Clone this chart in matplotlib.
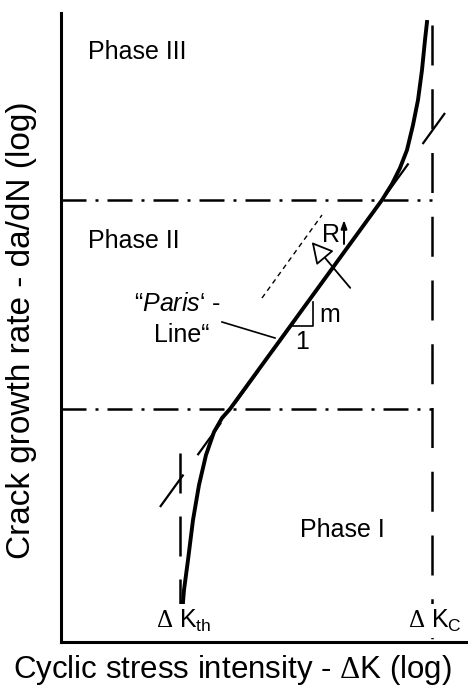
import numpy as np
import matplotlib
matplotlib.use("Agg")
import matplotlib.pyplot as plt
from matplotlib.patches import FancyArrowPatch

plt.rcParams['font.family'] = ['Liberation Sans', 'DejaVu Sans']
plt.rcParams['mathtext.fontset'] = 'custom'
plt.rcParams['mathtext.rm'] = 'Liberation Sans'
plt.rcParams['mathtext.it'] = 'Liberation Sans:italic'
plt.rcParams['mathtext.sf'] = 'Liberation Serif'
plt.rcParams['lines.scale_dashes'] = False

# drawing units: 1 unit = 1 px, origin at the axes corner
XMAX, YMAX = 405, 629

# da/dN curve (log dK, log da/dN)
curve_x = [121, 122, 123, 127, 132, 138, 145, 153, 161, 169, 321, 331, 339, 346, 352, 357, 361, 364, 366]
curve_y = [8, 40, 52, 82, 122, 157, 187, 210, 224, 233, 442, 458, 474, 492, 517, 542, 572, 602, 620]

# Paris line (straight part extended)
paris_x = [99, 384]
paris_y = [135, 529]

# phase boundaries
phase_y = [233, 442]
kth_x, kc_x = 119, 371
kth_span = [23, 189]
kc_span = [0, 617]

PX = 72 / 100  # points per pixel at dpi 100

fig = plt.figure(figsize=(4.68, 6.91), dpi=100)
ax = fig.add_axes([61 / 468, 49 / 691, 405 / 468, 629 / 691])
ax.set_xlim(0, XMAX)
ax.set_ylim(0, YMAX)
ax.set_xticks([])
ax.set_yticks([])
for s in ['top', 'right']:
    ax.spines[s].set_visible(False)
for s in ['left', 'bottom']:
    ax.spines[s].set_linewidth(2.2)
    ax.spines[s].set_zorder(5)

# dash-dot phase limits
for y in phase_y:
    ax.plot([0, kc_x], [y, y], color='black', lw=1.8,
            dashes=(25 * PX, 9 * PX, 3 * PX, 9 * PX), solid_capstyle='butt')

# threshold and critical stress intensity
ax.plot([kth_x, kth_x], kth_span[::-1], color='black', lw=1.8, dashes=(40 * PX, 23 * PX))
ax.plot([kc_x, kc_x], kc_span[::-1], color='black', lw=1.8, dashes=(40 * PX, 23.75 * PX))

# Paris line
ax.plot(paris_x, paris_y, color='black', lw=1.6, dashes=(40 * PX, 24 * PX))

# crack growth curve
ax.plot(curve_x, curve_y, color='black', lw=2.8, solid_joinstyle='round')

# shifted Paris line for higher R
ax.plot([201, 261], [344, 427], color='black', lw=1.0, dashes=(5 * PX, 4 * PX))
ax.add_patch(FancyArrowPatch((291, 352), (249, 402),
                             arrowstyle='-|>,head_length=13,head_width=7',
                             mutation_scale=1, lw=1.3, ec='black', fc='white'))
ax.text(270, 407, 'R', fontsize=18, ha='center', va='center')
ax.annotate('', xy=(283, 422), xytext=(283, 398),
            arrowprops=dict(arrowstyle='-|>,head_length=0.5,head_width=0.18',
                            lw=1.4, color='black', shrinkA=0, shrinkB=0))

# slope triangle
ax.plot([232, 252, 252], [316, 316, 340], color='black', lw=1.2)
ax.text(258, 327, 'm', fontsize=18, ha='left', va='center')
ax.text(241, 300, '1', fontsize=18, ha='center', va='center')

# Paris line label
ax.plot([161, 214], [320, 304], color='black', lw=1.2)
ax.text(117, 338, '“$\\it{Paris}$‘ -', fontsize=18, ha='center', va='center')
ax.text(121, 307, 'Line“', fontsize=18, ha='center', va='center')

# phases
ax.text(27, 590, 'Phase III', fontsize=18, ha='left', va='center')
ax.text(27, 401, 'Phase II', fontsize=18, ha='left', va='center')
ax.text(239, 112, 'Phase I', fontsize=18, ha='left', va='center')

# threshold / critical labels
for x, sub in [(kth_x, 'th'), (kc_x, 'C')]:
    ax.text(x - 24, 21, '$\\mathsf{\\Delta}$ K$_\\mathregular{' + sub + '}$',
            fontsize=18, ha='left', va='center', zorder=4,
            bbox=dict(boxstyle='square,pad=0.15', fc='white', ec='none'))

fig.text(232 / 468, 1 - 670 / 691, 'Cyclic stress intensity - $\\mathsf{\\Delta}$K (log)',
         fontsize=22.5, ha='center', va='center')
fig.text(22 / 468, 1 - 330 / 691, 'Crack growth rate - da/dN (log)',
         fontsize=24, ha='center', va='center', rotation=90)

fig.savefig('out.png', dpi=100)
